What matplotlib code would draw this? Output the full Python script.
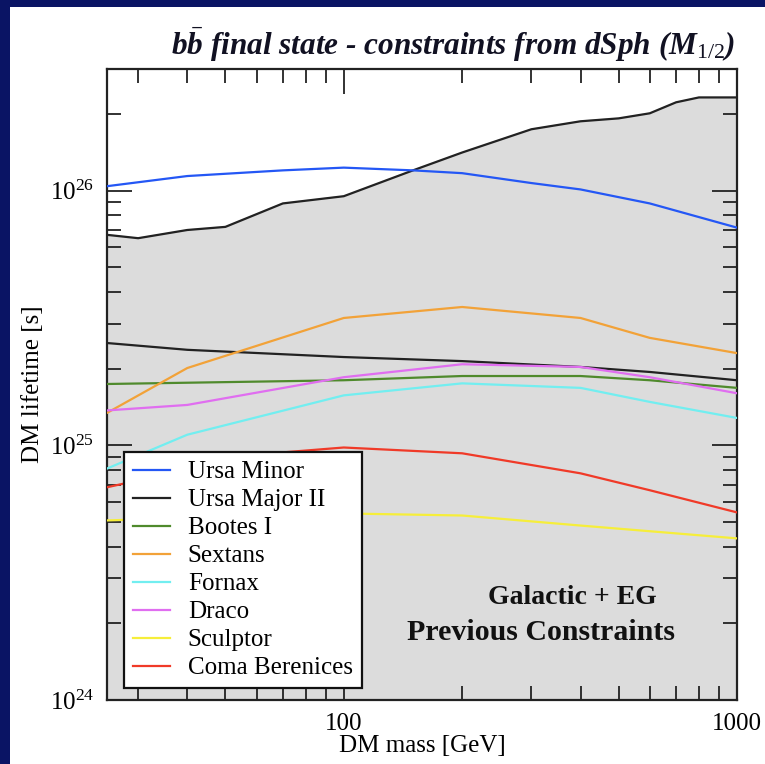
import matplotlib
matplotlib.use('Agg')
import matplotlib.pyplot as plt
from matplotlib.patches import Rectangle
from matplotlib.ticker import LogLocator, NullFormatter, FixedLocator, FixedFormatter

plt.rcParams['font.family'] = ['Liberation Serif', 'DejaVu Serif']
plt.rcParams['mathtext.fontset'] = 'custom'
plt.rcParams['mathtext.rm'] = 'Liberation Serif'
plt.rcParams['mathtext.it'] = 'Liberation Serif:italic:bold'
plt.rcParams['mathtext.bf'] = 'Liberation Serif:bold'

# Previous constraints (upper edge of grey band)
prev_mass = [25, 30, 40, 50, 70, 100, 150, 200, 300, 400, 500, 600, 700, 800, 1000]
prev_tau = [6.7e25, 6.5e25, 7.0e25, 7.2e25, 8.9e25, 9.5e25, 1.2e26, 1.41e26,
            1.74e26, 1.87e26, 1.92e26, 2.01e26, 2.22e26, 2.32e26, 2.32e26]

# dSph curves
umi_mass = [25, 40, 70, 100, 150, 200, 300, 400, 600, 1000]
umi_tau = [1.04e26, 1.14e26, 1.20e26, 1.23e26, 1.20e26, 1.17e26, 1.07e26, 1.01e26, 8.9e25, 7.15e25]

uma_mass = [25, 40, 100, 200, 400, 600, 1000]
uma_tau = [2.52e25, 2.37e25, 2.22e25, 2.14e25, 2.03e25, 1.94e25, 1.80e25]

boo_mass = [25, 100, 200, 400, 600, 1000]
boo_tau = [1.74e25, 1.80e25, 1.87e25, 1.87e25, 1.80e25, 1.68e25]

sex_mass = [25, 40, 100, 200, 400, 600, 1000]
sex_tau = [1.34e25, 2.01e25, 3.16e25, 3.49e25, 3.16e25, 2.64e25, 2.30e25]

fnx_mass = [25, 40, 100, 200, 400, 600, 1000]
fnx_tau = [8.1e24, 1.10e25, 1.57e25, 1.75e25, 1.68e25, 1.48e25, 1.28e25]

dra_mass = [25, 40, 100, 200, 400, 600, 1000]
dra_tau = [1.37e25, 1.44e25, 1.85e25, 2.08e25, 2.03e25, 1.85e25, 1.60e25]

scl_mass = [25, 100, 200, 400, 1000]
scl_tau = [5.07e24, 5.4e24, 5.3e24, 4.84e24, 4.31e24]

cbe_mass = [25, 60, 100, 200, 400, 600, 1000]
cbe_tau = [6.84e24, 9.2e24, 9.8e24, 9.3e24, 7.76e24, 6.66e24, 5.45e24]

series = [
    ('Ursa Minor', umi_mass, umi_tau, '#2457f5'),
    ('Ursa Major II', uma_mass, uma_tau, '#222222'),
    ('Bootes I', boo_mass, boo_tau, '#4f8a2c'),
    ('Sextans', sex_mass, sex_tau, '#f2a238'),
    ('Fornax', fnx_mass, fnx_tau, '#72eef0'),
    ('Draco', dra_mass, dra_tau, '#e06ef0'),
    ('Sculptor', scl_mass, scl_tau, '#f6ee3a'),
    ('Coma Berenices', cbe_mass, cbe_tau, '#f03a28'),
]

fig = plt.figure(figsize=(7.65, 7.64), dpi=100)
fig.patch.set_facecolor('#0a1464')
fig.patches.append(Rectangle((10 / 765, 0), 1 - 10 / 765, 1 - 7 / 764,
                             transform=fig.transFigure, facecolor='white',
                             edgecolor='none', zorder=-10))

ax = fig.add_axes([107 / 765, 64 / 764, 630 / 765, 631 / 764])
ax.set_zorder(2)
ax.set_xscale('log')
ax.set_yscale('log')
ax.set_xlim(25, 1000)
ax.set_ylim(1e24, 3e26)

ax.fill_between(prev_mass, 1e20, prev_tau, color='#dcdcdc', zorder=1)
ax.plot(prev_mass, prev_tau, color='#222222', lw=1.6, zorder=2)

for name, m, t, c in series:
    ax.plot(m, t, color=c, lw=1.6, label=name, zorder=3)

# ticks
ax.xaxis.set_major_locator(FixedLocator([100, 1000]))
ax.xaxis.set_major_formatter(FixedFormatter(['100', '1000']))
ax.xaxis.set_minor_locator(LogLocator(base=10, subs=range(2, 10)))
ax.xaxis.set_minor_formatter(NullFormatter())
ax.yaxis.set_major_locator(LogLocator(base=10, numticks=10))
ax.yaxis.set_minor_locator(LogLocator(base=10, subs=range(2, 10), numticks=10))
ax.yaxis.set_minor_formatter(NullFormatter())
ax.tick_params(which='both', direction='in', top=True, right=True,
               labelsize=18, width=1.3, color='#222222', pad=9)
ax.tick_params(which='major', length=18)
ax.tick_params(which='minor', length=10)
for s in ax.spines.values():
    s.set_linewidth(1.6)
    s.set_color('#222222')

ax.set_xlabel('DM mass [GeV]', fontsize=18, labelpad=0)
ax.set_ylabel('DM lifetime [s]', fontsize=18, labelpad=4)

fig.text(735 / 765, 1 - 45 / 764,
         r'$b\bar{b}$ final state - constraints from dSph ($M_{\mathit{1/2}}$)',
         ha='right', va='center', fontsize=22.5, style='italic', weight='bold',
         color='#111122')

fig.text(572 / 765, 1 - 597 / 764, 'Galactic + EG', ha='center', va='center',
         fontsize=20, weight='bold', color='#111111')
fig.text(541 / 765, 1 - 633 / 764, 'Previous Constraints', ha='center', va='center',
         fontsize=21.5, weight='bold', color='#111111')

leg = ax.legend(loc='lower left', bbox_to_anchor=(0.027, 0.019), borderaxespad=0,
                fontsize=18, frameon=True, fancybox=False, handlelength=1.5,
                handletextpad=0.7, labelspacing=0.22, borderpad=0.35)
leg.get_frame().set_edgecolor('#111111')
leg.get_frame().set_linewidth(1.6)
leg.get_frame().set_alpha(1)
leg.set_zorder(5)

fig.savefig('out.png', dpi=100, facecolor=fig.get_facecolor())
